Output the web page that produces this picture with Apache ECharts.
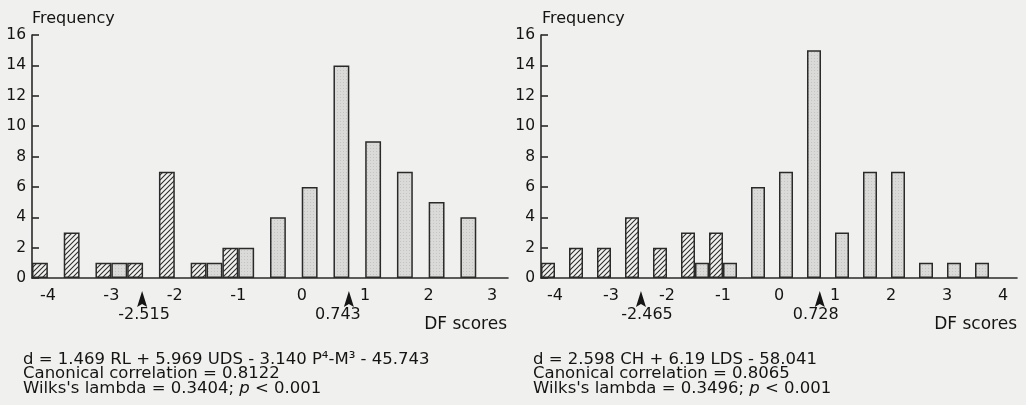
<!DOCTYPE html>
<html>
<head>
<meta charset="utf-8">
<script src="https://cdn.jsdelivr.net/npm/echarts@6/dist/echarts.min.js"></script>
<style>
  html, body { margin: 0; background: #f0f0ee; }
  #chart { width: 1026px; height: 405px; }
</style>
</head>
<body>
<div id="chart"></div>
<script>
// bins are 0.5 wide, labelled by their centre
const binsA = ['-4', '-3.5', '-3', '-2.5', '-2', '-1.5', '-1', '-0.5', '0', '0.5', '1', '1.5', '2', '2.5', '3']
const hatchA = [1, 3, 1, 1, 7, 1, 2, 0, 0, 0, 0, 0, 0, 0, 0]
const dotA = [0, 0, 1, 0, 0, 1, 2, 4, 6, 14, 9, 7, 5, 4, 0]
const meansA = [-2.515, 0.743]

const binsB = ['-4', '-3.5', '-3', '-2.5', '-2', '-1.5', '-1', '-0.5', '0', '0.5', '1', '1.5', '2', '2.5', '3', '3.5', '4']
const hatchB = [1, 2, 2, 4, 2, 3, 3, 0, 0, 0, 0, 0, 0, 0, 0, 0, 0]
const dotB = [0, 0, 0, 0, 0, 1, 1, 6, 7, 15, 3, 7, 7, 1, 1, 1, 0]
const meansB = [-2.465, 0.728]

const notesA = [
  'd = 1.469 RL + 5.969 UDS - 3.140 P\u2074-M\u00b3 - 45.743',
  'Canonical correlation = 0.8122',
  ['Wilks\'s lambda = 0.3404; ', 'p', ' < 0.001'],
]
const notesB = [
  'd = 2.598 CH + 6.19 LDS - 58.041',
  'Canonical correlation = 0.8065',
  ['Wilks\'s lambda = 0.3496; ', 'p', ' < 0.001'],
]

const FONT = '"DejaVu Sans", "Liberation Sans", sans-serif'
const INK = '#141414'

function hatchPattern() {
  const c = document.createElement('canvas')
  c.width = c.height = 5
  const g = c.getContext('2d')
  g.fillStyle = '#f1f1ef'
  g.fillRect(0, 0, 5, 5)
  g.strokeStyle = '#2e2e2e'
  g.lineWidth = 1.1
  g.beginPath()
  g.moveTo(-1, 6); g.lineTo(6, -1)
  g.moveTo(-1, 1); g.lineTo(1, -1)
  g.moveTo(4, 6); g.lineTo(6, 4)
  g.stroke()
  return c
}

function dotPattern() {
  const c = document.createElement('canvas')
  c.width = c.height = 3
  const g = c.getContext('2d')
  g.fillStyle = '#dadad8'
  g.fillRect(0, 0, 3, 3)
  g.fillStyle = '#c4c4c2'
  g.fillRect(1, 1, 1, 1)
  return c
}

const hatchFill = { image: hatchPattern(), repeat: 'repeat' }
const dotFill = { image: dotPattern(), repeat: 'repeat' }

const chart = echarts.init(document.getElementById('chart'))

const grids = [
  { left: 32, top: 35, width: 476, height: 243 },
  { left: 541, top: 35, width: 476, height: 243 },
]

function catAxis(bins, gi) {
  return {
    type: 'category',
    gridIndex: gi,
    data: bins,
    boundaryGap: true,
    axisLine: { onZero: false, lineStyle: { color: '#2a2a2a', width: 1.6 } },
    axisTick: { show: false },
    axisLabel: {
      interval: 0,
      margin: 10,
      color: INK,
      fontFamily: FONT,
      fontSize: 16,
      formatter: (v) => (Number.isInteger(Number(v)) ? v : ''),
    },
  }
}

function valAxisX(bins, gi) {
  const lo = Number(bins[0]) - 0.25
  const hi = Number(bins[bins.length - 1]) + 0.25
  return { type: 'value', gridIndex: gi, min: lo, max: hi, show: false }
}

function yAxis(gi) {
  return {
    type: 'value',
    gridIndex: gi,
    min: 0,
    max: 16,
    interval: 2,
    axisLine: { show: true, onZero: false, lineStyle: { color: '#2a2a2a', width: 1.6 } },
    axisTick: { show: true, inside: true, length: 7, lineStyle: { color: '#2a2a2a', width: 1.6 } },
    splitLine: { show: false },
    axisLabel: { margin: 6, color: INK, fontFamily: FONT, fontSize: 15.5 },
  }
}

function barSeries(vals, fill, gi) {
  return {
    type: 'bar',
    xAxisIndex: gi,
    yAxisIndex: gi,
    data: vals.map((v) => (v > 0 ? v : null)),
    barGap: '0%',
    barCategoryGap: '0%',
    itemStyle: { color: fill, borderColor: '#2a2a2a', borderWidth: 1.5 },
    silent: true,
    animation: false,
  }
}

const labelShift = [[2, -11], [6, -4]]

function arrowSeries(means, gi) {
  return {
    type: 'scatter',
    xAxisIndex: gi + 2,
    yAxisIndex: gi,
    clip: false,
    symbol: 'path://M5,0 L10,16 L5,13 L0,16 Z',
    symbolSize: [10, 16],
    symbolOffset: [0, 21],
    itemStyle: { color: '#151515', opacity: 1 },
    data: means.map((m, i) => ({
      value: [m, 0],
      label: { offset: [labelShift[gi][i], -2] },
    })),
    label: {
      show: true,
      position: 'bottom',
      distance: 2,
      color: INK,
      fontFamily: FONT,
      fontSize: 16,
      formatter: (p) => String(p.value[0]),
    },
    silent: true,
    animation: false,
  }
}

function notesTitle(lines, left) {
  const text = lines
    .map((l) => (Array.isArray(l) ? `{t|${l[0]}}{i|${l[1]}}{t|${l[2]}}` : `{t|${l}}`))
    .join('\n')
  const base = { fontFamily: FONT, fontSize: 16.5, fontWeight: 'normal', color: INK, lineHeight: 14.5 }
  return {
    left,
    top: 347,
    text,
    textStyle: { fontWeight: 'normal', rich: { t: base, i: { ...base, fontStyle: 'italic' } } },
  }
}

const textStyle = { fontFamily: FONT, fontSize: 16, fontWeight: 'normal', color: INK }
const dfStyle = { ...textStyle, fontSize: 17 }

chart.setOption({
  backgroundColor: '#f0f0ee',
  animation: false,
  title: [
    { left: 27, top: 6, text: 'Frequency', textStyle },
    { left: 537, top: 6, text: 'Frequency', textStyle },
    { right: 514, top: 311, text: 'DF scores', textStyle: dfStyle },
    { right: 4, top: 311, text: 'DF scores', textStyle: dfStyle },
    notesTitle(notesA, 18),
    notesTitle(notesB, 528),
  ],
  grid: grids,
  xAxis: [catAxis(binsA, 0), catAxis(binsB, 1), valAxisX(binsA, 0), valAxisX(binsB, 1)],
  yAxis: [yAxis(0), yAxis(1)],
  series: [
    barSeries(hatchA, hatchFill, 0),
    barSeries(dotA, dotFill, 0),
    barSeries(hatchB, hatchFill, 1),
    barSeries(dotB, dotFill, 1),
    arrowSeries(meansA, 0),
    arrowSeries(meansB, 1),
  ],
})
</script>
</body>
</html>
